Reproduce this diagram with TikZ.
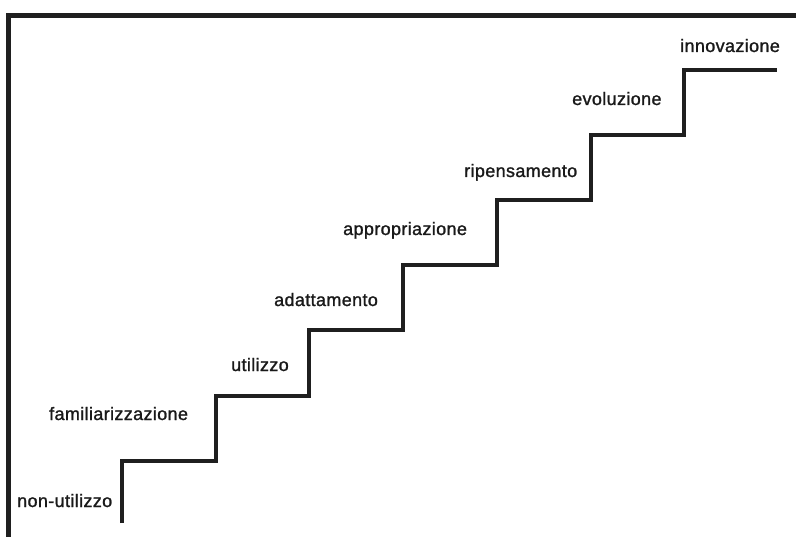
\documentclass[tikz,border=0pt]{standalone}
\usepackage{fontspec}
\setmainfont{Liberation Sans}
\newfontfamily\labelfont[FakeBold=1.3,LetterSpace=2]{Liberation Sans}
\begin{document}
\begin{tikzpicture}[x=1bp,y=-1bp,
  frameline/.style={line width=5bp,color=black!88},
  stairline/.style={line width=4bp,color=black!88,line join=miter},
  steplabel/.style={anchor=base west,inner sep=0pt,text=black!90,font=\labelfont\fontsize{18bp}{22bp}\selectfont}]
\useasboundingbox (0,0) rectangle (796,537);
% frame
\coordinate (fa) at (8,537);
\coordinate (fb) at (8,15.5);
\coordinate (fc) at (796,15.5);
\draw[frameline] (fa) -- (fb) -- (fc);
% stairs
\coordinate (p0) at (122,523);
\coordinate (p1) at (122,461);
\coordinate (p2) at (216,461);
\coordinate (p3) at (216,396);
\coordinate (p4) at (309,396);
\coordinate (p5) at (309,330);
\coordinate (p6) at (403,330);
\coordinate (p7) at (403,265);
\coordinate (p8) at (497,265);
\coordinate (p9) at (497,200);
\coordinate (p10) at (591,200);
\coordinate (p11) at (591,135);
\coordinate (p12) at (684,135);
\coordinate (p13) at (684,70);
\coordinate (p14) at (777,70);
\draw[stairline] (p0) -- (p1) -- (p2) -- (p3) -- (p4) -- (p5) -- (p6) -- (p7) -- (p8) -- (p9) -- (p10) -- (p11) -- (p12) -- (p13) -- (p14);
% labels
\node[steplabel] (l1) at (17,507) {non-utilizzo};
\node[steplabel] (l2) at (49,420) {familiarizzazione};
\node[steplabel] (l3) at (231,371) {utilizzo};
\node[steplabel] (l4) at (274,306) {adattamento};
\node[steplabel] (l5) at (343,235) {appropriazione};
\node[steplabel] (l6) at (464,177) {ripensamento};
\node[steplabel] (l7) at (572,105) {evoluzione};
\node[steplabel] (l8) at (680,52) {innovazione};
\end{tikzpicture}
\end{document}
